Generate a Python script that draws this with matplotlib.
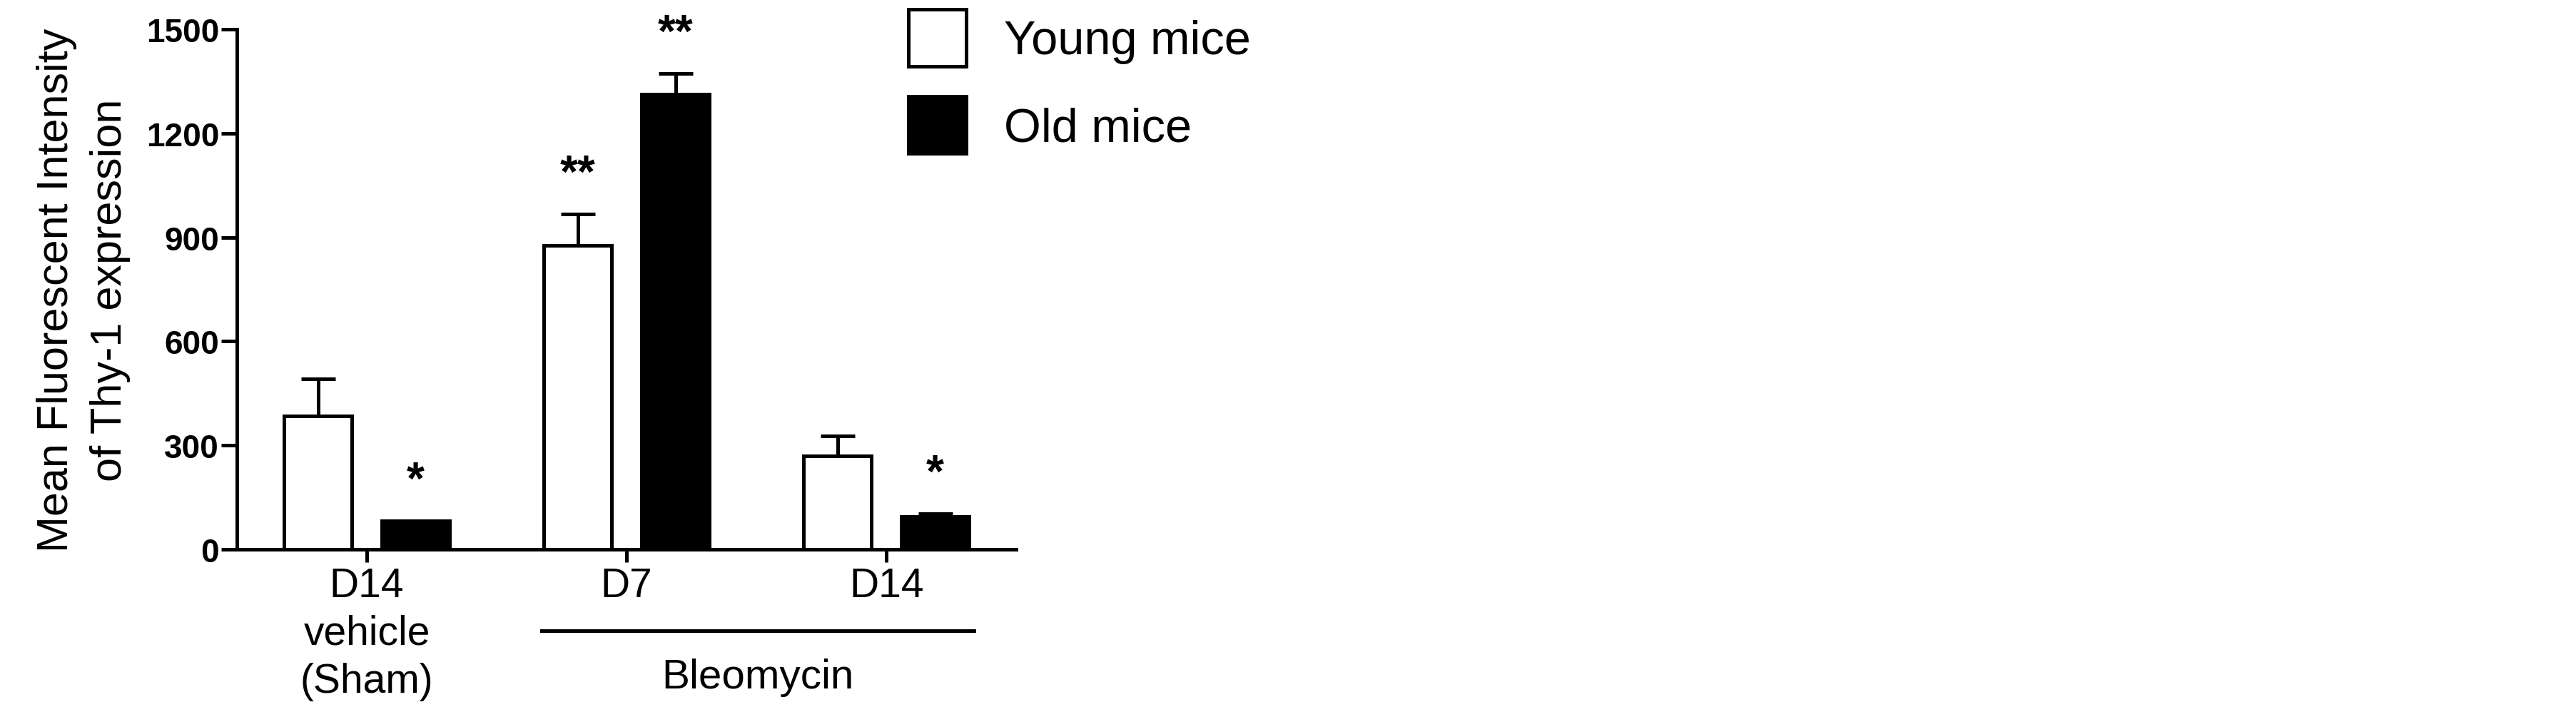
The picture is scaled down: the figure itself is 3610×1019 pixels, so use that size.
import numpy as np
import matplotlib
matplotlib.use("Agg")
import matplotlib.pyplot as plt
from matplotlib.patches import Patch

plt.rcParams['font.family'] = ['Liberation Sans', 'DejaVu Sans']

groups = ['D14\nvehicle\n(Sham)', 'D7', 'D14']
young_mean = [385, 877, 270]
young_sem = [107, 91, 58]
old_mean = [82, 1312, 94]
old_sem = [1, 60, 9]
young_stars = ['', '**', '']
old_stars = ['*', '**', '*']

fig = plt.figure(figsize=(36.1, 10.2), dpi=100)
ax = fig.add_axes([0.092, 0.2441, 0.3025, 0.7147])

x = np.arange(len(groups))
w = 0.26
off = 0.188
lw = 3.6

ax.bar(x - off, young_mean, w, color='white', edgecolor='black', linewidth=lw, zorder=3)
ax.bar(x + off, old_mean, w, color='black', edgecolor='black', linewidth=lw, zorder=3)
ax.errorbar(x - off, young_mean, yerr=[np.zeros(3), young_sem], fmt='none',
            ecolor='black', elinewidth=lw, capsize=17, capthick=lw, zorder=2)
ax.errorbar(x + off, old_mean, yerr=[np.zeros(3), old_sem], fmt='none',
            ecolor='black', elinewidth=lw, capsize=17, capthick=lw, zorder=2)

for xs, means, sems, stars in [(x - off, young_mean, young_sem, young_stars),
                               (x + off, old_mean, old_sem, old_stars)]:
    for xi, m, e, s in zip(xs, means, sems, stars):
        ax.annotate(s, (xi, m + e), xytext=(0, 18), textcoords='offset points',
                    ha='center', va='bottom', fontsize=46, fontweight='bold')

ax.set_xlim(-0.5, 2.5)
ax.set_ylim(0, 1500)
ax.set_yticks([0, 300, 600, 900, 1200, 1500])
ax.set_xticks(x)
ax.set_xticklabels(groups, fontsize=41, linespacing=1.31)
for t in ax.get_yticklabels():
    t.set_fontsize(33)
    t.set_fontweight('bold')

for side in ['top', 'right']:
    ax.spines[side].set_visible(False)
for side in ['left', 'bottom']:
    ax.spines[side].set_linewidth(lw)
ax.tick_params(axis='y', length=16, width=lw, pad=2)
ax.tick_params(axis='x', length=13, width=lw, pad=4)

ax.set_ylabel('Mean Fluorescent Intensity\nof Thy-1 expression', fontsize=44,
              linespacing=1.4, labelpad=16)

# bracket under the bleomycin groups
ax.plot([0.673, 2.337], [-0.156, -0.156], color='black', lw=lw,
        transform=ax.get_xaxis_transform(), clip_on=False)
ax.text(1.505, -0.2455, 'Bleomycin', ha='center', va='center', fontsize=42,
        transform=ax.get_xaxis_transform())

handles = [Patch(facecolor='white', edgecolor='black', linewidth=lw, label='Young mice'),
           Patch(facecolor='black', edgecolor='black', linewidth=lw, label='Old mice')]
fig.legend(handles=handles, loc='upper left', bbox_to_anchor=(1273 / 3610, 1 - 14 / 1020),
           frameon=False, fontsize=48, handlelength=1.21, handleheight=1.47,
           handletextpad=0.8, labelspacing=0.63, borderpad=0, borderaxespad=0)

fig.savefig('out.png', dpi=100)
